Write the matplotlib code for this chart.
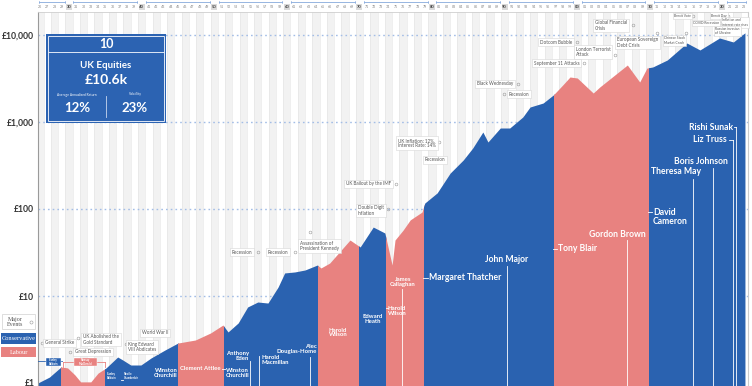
import numpy as np
import matplotlib
matplotlib.use('Agg')
import matplotlib.pyplot as plt
import matplotlib.transforms as mtransforms
from matplotlib.patches import Rectangle
from matplotlib.lines import Line2D
from matplotlib.ticker import NullLocator

plt.rcParams['font.family'] = ['Lato', 'DejaVu Sans']

W, H = 752, 386
BLUE = '#2a62b0'
PINK = '#e88280'

# ---- data: growth of £1 invested in UK equities ----
years = [1926.2, 1927.8, 1929.4, 1930.3, 1931.3, 1932.1, 1933.5, 1934.5, 1935.6,
         1937.2, 1937.9, 1939.0, 1940.4, 1941.8, 1943.7, 1945.5, 1947.9, 1950.0,
         1951.7, 1952.4, 1953.8, 1955.1, 1956.5, 1957.9, 1959.3, 1960.2, 1961.6,
         1963.0, 1964.7, 1965.2, 1966.4, 1969.2, 1970.6, 1972.4, 1974.0, 1975.0,
         1975.4, 1976.5, 1977.5, 1979.1, 1979.5, 1981.2, 1983.0, 1984.8, 1986.1,
         1987.5, 1988.2, 1989.9, 1991.2, 1993.0, 1994.0, 1995.8, 1997.2, 1998.5,
         1999.5, 2000.5, 2002.7, 2003.6, 2007.4, 2009.1, 2010.1, 2010.9, 2012.9,
         2015.6, 2017.4, 2020.1, 2022.0, 2023.6]
values = [1.0, 1.17, 1.53, 1.49, 1.24, 1.03, 1.03, 1.30, 1.49,
          1.99, 1.84, 1.61, 1.61, 1.94, 2.39, 2.88, 3.12, 3.76,
          4.64, 3.86, 4.9, 7.48, 8.53, 8.3, 12.7, 18.4, 18.9,
          19.9, 22.7, 21.0, 23.9, 44, 36.6, 62, 53, 22.7,
          44, 57, 75, 92, 117, 153, 259, 366, 502,
          767, 589, 853, 853, 1141, 1487, 1652, 2043, 2663,
          3290, 3205, 2154, 2525, 4520, 2884, 4170, 4290, 5160,
          8090, 6730, 9240, 8310, 10600]

gov_starts = [1926.2, 1929.4, 1935.45, 1945.5, 1951.8, 1964.8, 1970.5, 1974.2,
              1979.35, 1997.35, 2010.35]
gov_party = ['Conservative', 'Labour', 'Conservative', 'Labour', 'Conservative',
             'Labour', 'Conservative', 'Labour', 'Conservative', 'Labour',
             'Conservative']
end_year = 2024.02

ytick_vals = [1, 10, 100, 1000, 10000]
ytick_labels = ['£1', '£10', '£100', '£1,000', '£10,000']

party_color = {'Conservative': BLUE, 'Labour': PINK}

fig = plt.figure(figsize=(7.52, 3.86), dpi=100)
ax = fig.add_axes([38 / W, 0, (748 - 38) / W, (386 - 12) / H])
ax.set_yscale('log')
ax.set_xlim(1926.226, end_year)
ybot = 10 ** (-3 / 87)
ax.set_ylim(ybot, 10 ** (371 / 87))

# year stripes
for yr in range(1926, 2025):
    if yr % 2 == 0:
        ax.axvspan(yr, yr + 1, color='#f2f2f2', lw=0, zorder=0)
    ax.axvline(yr, color='#e3e3e3', lw=0.4, zorder=0.5)

# horizontal dotted gridlines
for v in ytick_vals[1:]:
    ax.axhline(v, color='#a3bde6', lw=1.0, ls=(0, (1.2, 2.2)), zorder=1)

# party-coloured area
x = np.array(years)
y = np.array(values)
for i, start in enumerate(gov_starts):
    stop = gov_starts[i + 1] if i + 1 < len(gov_starts) else end_year
    poly = ax.fill_between(x, ybot, y, color=party_color[gov_party[i]], lw=0, zorder=2)
    rect = Rectangle((start, 0.5), stop - start, 1e5, transform=ax.transData)
    poly.set_clip_path(rect)

ax.set_yticks(ytick_vals)
ax.set_yticklabels([''] + ytick_labels[1:])
ax.yaxis.set_minor_locator(NullLocator())
ax.tick_params(axis='y', length=0, pad=3, labelsize=6.2, labelcolor='#333')
for lab in ax.get_yticklabels():
    lab.set_fontweight('bold')
# the bottom label is lifted a little so it stays inside the picture
ax.text(-0.0045, ytick_vals[0], ytick_labels[0], transform=ax.get_yaxis_transform(),
        ha='right', va='center', fontsize=6.2, fontweight='bold', color='#333', clip_on=False)
ax.set_xticks([])
ax.spines['bottom'].set_visible(False)
ax.spines['left'].set_color('#9a9a9a')
ax.spines['left'].set_linewidth(0.8)
ax.spines['right'].set_color('#cccccc')
ax.spines['top'].set_color('#cfcfcf')
ax.spines['top'].set_linewidth(0.6)

# top year axis
xt = ax.get_xaxis_transform()
for yr in range(1926, 2024):
    s = f"{yr % 100:02d}"
    if yr % 10 == 0:
        ax.text(yr + 0.5, 1 + 5 / 374, s, transform=xt, fontsize=3, fontweight='bold',
                ha='center', va='center', color='#444', clip_on=False,
                bbox=dict(boxstyle='square,pad=0.15', fc='#dadada', ec='none'))
    else:
        ax.text(yr + 0.5, 1 + 5 / 374, s, transform=xt, fontsize=2.6,
                ha='center', va='center', color='#888', clip_on=False)
for d in range(1920, 2030, 10):
    a = max(d + 1, 1926.3)
    b = min(d + 10, 2023.9)
    if b <= a:
        continue
    yb = 1 + 10 / 374
    ax.plot([a + 0.1, b - 0.1], [yb, yb], transform=xt, color='#86a9dc', lw=0.6, clip_on=False)
    for e in (a + 0.1, b - 0.1):
        ax.plot([e, e], [yb - 1.5 / 374, yb + 1.5 / 374], transform=xt, color='#86a9dc', lw=0.5,
                clip_on=False)


def fx(px):
    return px / W


def fy(py):
    return 1 - py / H


def fline(x1, y1, x2, y2, color='white', lw=0.6):
    fig.add_artist(Line2D([fx(x1), fx(x2)], [fy(y1), fy(y2)], transform=fig.transFigure,
                          color=color, lw=lw, zorder=5))


def frect(x, y, w, h, fc, ec='none', lw=0.6, z=4):
    fig.add_artist(Rectangle((fx(x), fy(y + h)), w / W, h / H, transform=fig.transFigure,
                             fc=fc, ec=ec, lw=lw, zorder=z))


def ftext(px, py, s, size, color='white', weight='bold', ha='center', va='center', **kw):
    fig.text(fx(px), fy(py), s, fontsize=size, color=color, fontweight=weight, ha=ha, va=va,
             zorder=6, linespacing=1.0, **kw)


# ---- info box ----
frect(46, 34, 120, 89, '#2c63b2', z=4)
frect(48, 36, 116, 85, 'none', ec='#dfe8f6', lw=0.7, z=4.5)
fline(48, 52, 164, 52, color='#dfe8f6', lw=0.7)
ftext(106, 44, '10', 9)
ftext(106, 66, 'UK Equities', 7)
ftext(106, 80.5, '£10.6k', 10)
ftext(77, 95, 'Average Annualised Return', 2.3, weight='normal')
ftext(135, 94.5, 'Volatility', 2.3, weight='normal')
ftext(77, 108, '12%', 9.5)
ftext(135, 108, '23%', 9.5)
fline(106, 96, 106, 117, color='#c8d6ee', lw=0.6)

# ---- legend ----
serif = ['Liberation Serif', 'DejaVu Serif']
frect(2, 314, 33, 15, 'white', ec='#d0d0d0', lw=0.5)
ftext(15, 321.5, 'Major\nEvents', 4.3, color='#555', weight='normal', family=serif)
fig.add_artist(Line2D([fx(31)], [fy(321.5)], transform=fig.transFigure, marker='o', ms=2.2,
                      mfc='none', mec='#999', mew=0.4, zorder=6))
frect(1, 333, 35, 11, BLUE)
ftext(18.5, 338.5, 'Conservative', 4.6, weight='normal', family=serif)
frect(1, 347, 35, 10, PINK)
ftext(18.5, 352, 'Labour', 4.6, weight='normal', family=serif)

# ---- prime minister labels ----
fline(38, 361, 62, 361, color=BLUE, lw=0.6)
frect(46, 358, 15, 8, BLUE, ec='white', lw=0.3, z=5)
ftext(53.5, 362, 'Stanley\nBaldwin', 1.9)
fline(63, 362, 105, 362, color=PINK, lw=0.6)
fline(63, 362, 63, 367, color=PINK, lw=0.6)
fline(105, 362, 105, 367, color=PINK, lw=0.6)
frect(74, 358, 23, 8, PINK, ec='white', lw=0.3, z=5)
ftext(85.5, 362, 'Ramsay\nMacDonald', 1.9)
ftext(107, 376, 'Stanley\nBaldwin', 2.0, ha='left')
fline(121, 380, 123, 380)
ftext(124, 376, 'Neville\nChamberlain', 2.0, ha='left')
ftext(166, 373, 'Winston\nChurchill', 4.3)
ftext(200, 369, 'Clement Attlee', 4.3)
fline(222, 369, 225, 369)
ftext(226, 373, 'Winston\nChurchill', 4.3, ha='left')
ftext(249, 356, 'Anthony\nEden', 4.3, ha='right')
fline(250, 361, 250, 386)
ftext(261, 360, 'Harold\nMacmillan', 4.3, ha='left')
fline(259, 356, 259, 386)
ftext(317, 349, 'Alec\nDouglas-Home', 4.3, ha='right')
fline(310, 357, 310, 386)
ftext(338, 332.5, 'Harold\nWilson', 4.3)
ftext(373, 319, 'Edward\nHeath', 4.3)
fline(386, 308, 388, 308)
ftext(388, 311, 'Harold\nWilson', 4.3, ha='left')
ftext(403, 282, 'James\nCallaghan', 4.3)
fline(402, 289, 402, 386)
fline(423, 278, 428, 278)
ftext(429, 278, 'Margaret Thatcher', 6.2, ha='left')
ftext(507, 260, 'John Major', 6.2)
fline(507, 266, 507, 386)
fline(553, 249, 557, 249)
ftext(558, 249, 'Tony Blair', 6.2, ha='left')
ftext(617, 234, 'Gordon Brown', 6.2)
fline(627, 240, 627, 386)
fline(648, 212, 652, 212)
ftext(653, 217, 'David\nCameron', 6.2, ha='left')
ftext(701, 172, 'Theresa May', 6.2, ha='right')
fline(693, 179, 693, 386)
ftext(728, 162, 'Boris Johnson', 6.2, ha='right')
fline(713, 168, 713, 386)
ftext(727, 140, 'Liz Truss', 6.2, ha='right')
fline(729, 140, 733, 140)
fline(733, 140, 733, 386)
ftext(733, 127, 'Rishi Sunak', 6.2, ha='right')
fline(734, 127, 736, 127)
fline(736, 127, 736, 386)

# ---- major events ----
events = [
    ('General Strike', 45, 343, 42, 343),
    ('UK Abolished the\nGold Standard', 83, 339.5, 78, 338),
    ('Great Depression', 75, 352, 70, 352),
    ('King Edward\nVIII Abdicates', 128, 347, 126, 344),
    ('Recession', 232, 252, 258, 252),
    ('Recession', 268, 252, 295, 252),
    ('Assassination of\nPresident Kennedy', 300, 246, 310, 232),
    ('Double Digit\nInflation', 358, 210.5, 388, 209),
    ('UK Bailout by the IMF', 346, 184, 396, 184),
    ('UK Inflation: 12%,\nInterest Rate: 14%', 398, 143, 439, 142),
    ('Recession', 425, 160, None, None),
    ('Black Wednesday', 477, 84, 518, 84),
    ('Recession', 509, 94, 504, 94),
    ('Dotcom Bubble', 540, 42, 577, 42),
    ('London Terrorist\nAttack', 576, 52, 615, 55),
    ('September 11 Attacks', 534, 63, 584, 63),
    ('Global Financial\nCrisis', 595, 25.5, 633, 25),
    ('European Sovereign\nDebt Crisis', 617, 42.5, 657, 33),
    ('Chinese Stock\nMarket Crash', 664, 40.5, 686, 33),
    ('Brexit Vote', 674, 16, 693, 16),
    ('Brexit Day', 711, 15.5, 728, 15.5),
    ('COVID Recession', 693, 23, 720, 23),
    ('Inflation and\ninterest rate rises', 722, 22.5, None, None),
    ('Russian invasion\nof Ukraine', 715, 31, 737, 31),
]
for s, tx, ty, cx, cy in events:
    size = 3.3 if tx < 660 else 2.4
    fig.text(fx(tx), fy(ty), s, fontsize=size, color='#555', ha='left', va='center',
             linespacing=1.1, zorder=6,
             bbox=dict(boxstyle='square,pad=0.35', fc='white', ec='#d6d6d6', lw=0.4))
    if cx is not None:
        fig.add_artist(Line2D([fx(cx)], [fy(cy)], transform=fig.transFigure, marker='o',
                              ms=2.0, mfc='none', mec='#999', mew=0.4, zorder=6))

fig.text(fx(155), fy(333), 'World War II', fontsize=3.3, color='#555', ha='center', va='center',
         zorder=6, bbox=dict(boxstyle='square,pad=0.35', fc='white', ec='#d6d6d6', lw=0.4))

fig.savefig('out.png', dpi=100)
